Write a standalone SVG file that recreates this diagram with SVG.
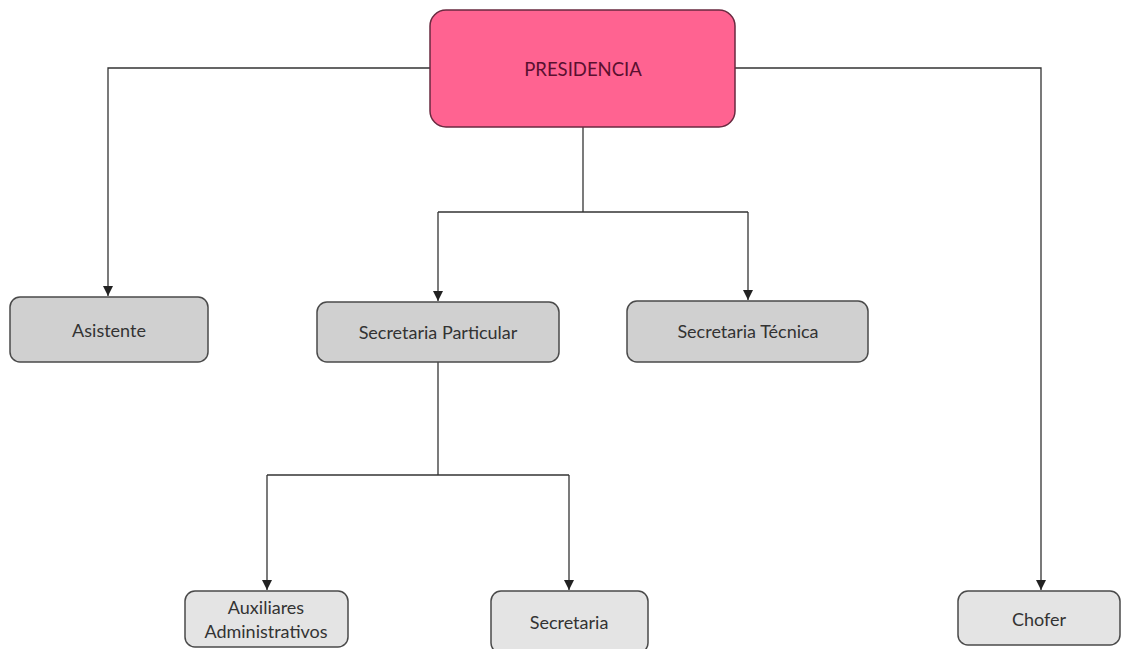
<svg xmlns="http://www.w3.org/2000/svg" width="1123" height="649" viewBox="0 0 1123 649">
<style>
.box{stroke:#4a4a4a;stroke-width:1.5}
.l2{fill:#d0d0d0}
.l3{fill:#e4e4e4}
.t{font-family:Lato,"Open Sans",sans-serif;font-size:18px;fill:#333;text-anchor:middle;dominant-baseline:central}
.c{fill:none;stroke:#333;stroke-width:1.3}
</style>
<defs>
<marker id="ah" viewBox="0 0 10 10" refX="10" refY="5" markerWidth="10" markerHeight="10" markerUnits="userSpaceOnUse" orient="auto">
<path d="M0,0 L10,5 L0,10 Z" fill="#222"/>
</marker>
</defs>
<rect width="1123" height="649" fill="#fff"/>
<g id="connectors">
<path class="c" d="M430,68 H108 V296" marker-end="url(#ah)"/>
<path class="c" d="M735,68 H1041 V590" marker-end="url(#ah)"/>
<path class="c" d="M583,127 V212"/>
<path class="c" d="M438,212 H748"/>
<path class="c" d="M438,212 V301" marker-end="url(#ah)"/>
<path class="c" d="M748,212 V300" marker-end="url(#ah)"/>
<path class="c" d="M438,362 V475"/>
<path class="c" d="M267,475 H569"/>
<path class="c" d="M267,475 V590" marker-end="url(#ah)"/>
<path class="c" d="M569,475 V590" marker-end="url(#ah)"/>
</g>
<g id="presidencia">
<rect x="430" y="10" width="305" height="117" rx="16" fill="#ff6391" stroke="#6a2a40" stroke-width="1.5"/>
<text class="t" x="583" y="69" style="fill:#5a1030;font-size:18.5px">PRESIDENCIA</text>
</g>
<g id="asistente">
<rect class="box l2" x="10" y="297" width="198" height="65" rx="10"/>
<text class="t" x="109" y="330">Asistente</text>
</g>
<g id="sec-particular">
<rect class="box l2" x="317" y="302" width="242" height="60" rx="10"/>
<text class="t" x="438" y="332">Secretaria Particular</text>
</g>
<g id="sec-tecnica">
<rect class="box l2" x="627" y="301" width="241" height="61" rx="10"/>
<text class="t" x="748" y="331">Secretaria Técnica</text>
</g>
<g id="auxiliares">
<rect class="box l3" x="185" y="591" width="163" height="56" rx="10"/>
<text class="t" x="266" y="607">Auxiliares</text>
<text class="t" x="266" y="631">Administrativos</text>
</g>
<g id="secretaria">
<rect class="box l3" x="491" y="591" width="157" height="62" rx="10"/>
<text class="t" x="569" y="622">Secretaria</text>
</g>
<g id="chofer">
<rect class="box l3" x="958" y="591" width="162" height="54" rx="10"/>
<text class="t" x="1039" y="619">Chofer</text>
</g>
</svg>
